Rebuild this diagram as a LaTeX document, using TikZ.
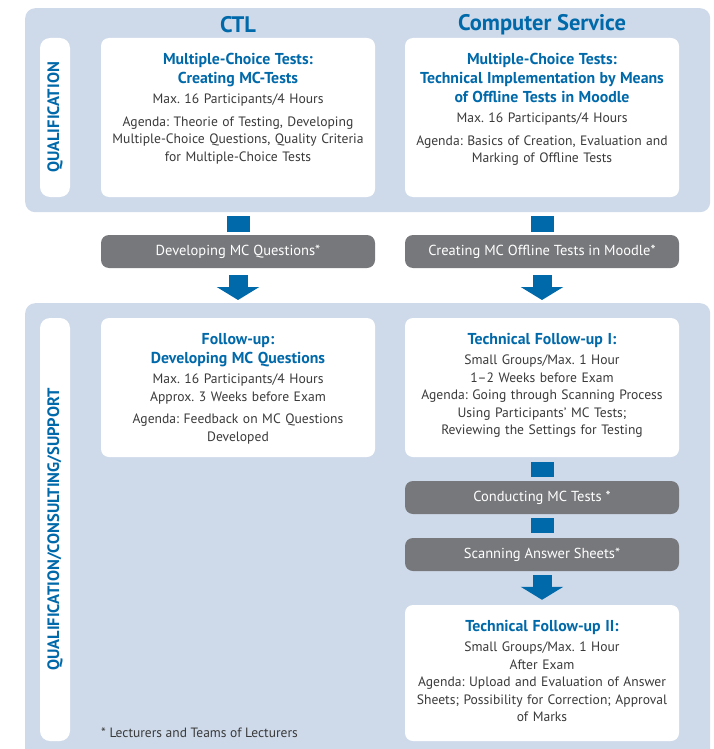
\documentclass[tikz,border=0pt]{standalone}
\usepackage{fontspec}
\setmainfont{PT Sans}
\usepackage{xcolor}
\usetikzlibrary{calc,arrows.meta,positioning}

\definecolor{mcblue}{RGB}{0,105,170}
\definecolor{mcpanel}{RGB}{206,218,234}
\definecolor{mcgray}{RGB}{119,120,123}
\definecolor{mctext}{RGB}{58,58,58}

\newcommand{\mctitle}[1]{{\color{mcblue}\bfseries\fontsize{15.8}{19}\selectfont #1\par}\vspace{3pt}}
\frenchspacing

\begin{document}
\begin{tikzpicture}[x=1pt, y=-1pt,
  panel/.style={fill=mcpanel, rounded corners=10pt, inner sep=0pt, anchor=north west},
  labelbox/.style={fill=white, rounded corners=10pt, rotate=90, inner sep=0pt, text=mcblue, font=\fontsize{16.5}{18}\selectfont\bfseries},
  whitebox/.style={fill=white, rounded corners=8pt, inner sep=0pt, minimum width=274pt},
  boxtext/.style={inner sep=0pt, align=center, text=mctext, text width=272pt, anchor=north, font=\fontsize{13.6}{17.5}\selectfont},
  graybar/.style={fill=mcgray, rounded corners=8pt, text=white, minimum width=274pt, minimum height=33pt, inner sep=0pt, font=\fontsize{14.5}{16}\selectfont},
  header/.style={text=mcblue, font=\fontsize{22.5}{26}\selectfont\bfseries},
  stub/.style={draw=mcblue, line width=23pt},
  blockarrow/.style={draw=mcblue, line width=19pt, -{Triangle[width=42pt,length=13pt]}}]

\useasboundingbox (0,0) rectangle (714,749);
\clip (0,0) rectangle (714,749);

% Panels
\node[panel, minimum width=685pt, minimum height=204pt] (qual) at (25,8) {};
\node[panel, minimum width=685pt, minimum height=470pt] (supp) at (25,303) {};

% Side labels
\node[labelbox, minimum width=159pt, minimum height=30pt] (qual label) at (55,117.5) {QUALIFICATION};
\node[labelbox, minimum width=423pt, minimum height=30pt] (supp label) at (55,529.5) {QUALIFICATION/CONSULTING/SUPPORT};

% Column headers
\node[header] (ctl head) at (238,25) {CTL};
\node[header] (cs head) at (542,25) {Computer Service};

% Qualification boxes
\node[whitebox, minimum height=159pt] (ctl) at (238,117.5) {};
\node[boxtext] (ctl text) at ($(ctl.north)+(0,15)$) {
    \mctitle{Multiple-Choice Tests:\\Creating MC-Tests}
    Max. 16 Participants/4 Hours\par\vspace{5pt}
    Agenda: Theorie of Testing, Developing\\
    Multiple-Choice Questions, Quality Criteria\\
    for Multiple-Choice Tests
};

\node[whitebox, minimum height=159pt] (cs) at (542,117.5) {};
\node[boxtext] (cs text) at ($(cs.north)+(0,15)$) {
    \mctitle{Multiple-Choice Tests:\\Technical Implementation by Means\\of Offline Tests in Moodle}
    Max. 16 Participants/4 Hours\par\vspace{5pt}
    Agenda: Basics of Creation, Evaluation and\\
    Marking of Offline Tests
};

% Steps between the panels
\node[graybar] (dev q) at (238,251.5) {Developing MC Questions*};
\node[graybar] (create off) at (542,251.5) {Creating MC Offline Tests in Moodle*};

\draw[stub] ($(qual.south -| dev q.north)+(0,4)$) -- ($(dev q.north)+(0,-3)$);
\draw[stub] ($(qual.south -| create off.north)+(0,4)$) -- ($(create off.north)+(0,-3)$);
\draw[blockarrow] ($(dev q.south)+(0,7)$) -- ($(supp.north -| dev q.south)+(0,-3)$);
\draw[blockarrow] ($(create off.south)+(0,7)$) -- ($(supp.north -| create off.south)+(0,-3)$);

% Follow-up boxes
\node[whitebox, minimum height=139pt] (follow) at (238,387.5) {};
\node[boxtext] (follow text) at ($(follow.north)+(0,15)$) {
    \mctitle{Follow-up:\\Developing MC Questions}
    Max. 16 Participants/4 Hours\\
    Approx. 3 Weeks before Exam\par\vspace{5pt}
    Agenda: Feedback on MC Questions\\
    Developed
};

\node[whitebox, minimum height=139pt] (tech one) at (542,387.5) {};
\node[boxtext] (tech one text) at ($(tech one.north)+(0,15)$) {
    \mctitle{Technical Follow-up I:}
    Small Groups/Max. 1 Hour\\
    1–2 Weeks before Exam\\
    Agenda: Going through Scanning Process\\
    Using Participants’ MC Tests;\\
    Reviewing the Settings for Testing
};

\node[graybar] (conduct) at (542,497.5) {Conducting MC Tests *};
\node[graybar] (scan) at (542,554.5) {Scanning Answer Sheets*};

\node[whitebox, minimum height=136pt] (tech two) at (542,673) {};
\node[boxtext] (tech two text) at ($(tech two.north)+(0,15)$) {
    \mctitle{Technical Follow-up II:}
    Small Groups/Max. 1 Hour\\
    After Exam\\
    Agenda: Upload and Evaluation of Answer\\
    Sheets; Possibility for Correction; Approval\\
    of Marks
};

\draw[stub] ($(tech one.south)+(0,5)$) -- ($(conduct.north)+(0,-4)$);
\draw[stub] ($(conduct.south)+(0,4)$) -- ($(scan.north)+(0,-5)$);
\draw[blockarrow] ($(scan.south)+(0,4)$) -- ($(tech two.north)+(0,-5)$);

% Footnote
\node[anchor=west, inner sep=0pt, text=mctext, font=\fontsize{13.5}{15}\selectfont] (note) at (101,733) {* Lecturers and Teams of Lecturers};

\end{tikzpicture}
\end{document}
